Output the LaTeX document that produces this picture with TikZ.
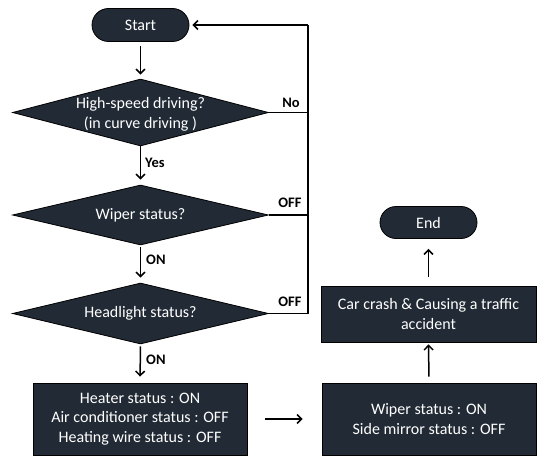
\documentclass[tikz,border=0pt]{standalone}
\usepackage{fontspec}
\setmainfont{Carlito}
\usetikzlibrary{shapes.geometric,shapes.misc,arrows.meta}
\definecolor{boxfill}{HTML}{222A35}
\begin{document}
\begin{tikzpicture}[x=1pt,y=-1pt,
  base/.style={fill=boxfill, draw=black, line width=0.8pt, text=white,
    font=\fontsize{16}{19.5}\selectfont, align=center, inner sep=0pt},
  terminal/.style={base, rounded rectangle, minimum width=97pt, minimum height=#1},
  terminal/.default=33pt,
  decision/.style={base, diamond, minimum width=256pt, minimum height=#1},
  decision/.default=60pt,
  process/.style={base, rectangle, minimum width=214pt, minimum height=#1},
  process/.default=72pt,
  dtext/.style={text=white, font=\fontsize{16}{19.5}\selectfont, align=center, inner sep=0pt},
  flow/.style={line width=1.5pt, -{Straight Barb[length=4.5pt,width=9pt]}},
  link/.style={line width=1.4pt, line join=miter},
  tag/.style={font=\fontsize{14.5}{17}\selectfont\bfseries, inner sep=0pt}
]
\useasboundingbox (0,0) rectangle (540,457);

% left column
\node[terminal] (start) at (140.5,25) {Start};
\node[decision=67pt] (d1) at (140.5,112.5) {};
\node[dtext] (d1t) at (140.5,114.5) {High-speed driving?\\(in curve driving )};
\node[decision=60pt] (d2) at (140.5,215) {};
\node[dtext] (d2t) at (d2) {Wiper status?};
\node[decision=61pt] (d3) at (140.5,313.5) {};
\node[dtext] (d3t) at (d3) {Headlight status?};
\node[process] (heat) at (140,419) {Heater status : ON\\Air conditioner status : OFF\\Heating wire status : OFF};

% right column
\node[process] (wipe) at (429,419) {Wiper status : ON\\Side mirror status : OFF};
\node[process=56pt, minimum width=215pt] (crash) at (428.5,314) {Car crash \& Causing a traffic\\accident};
\node[terminal=32pt] (end) at (428.5,222.5) {End};

% main flow
\draw[flow, shorten <=4pt, shorten >=4pt] (start.south) -- (d1.north);
\draw[flow, shorten >=5pt] (d1.south) -- (d2.north);
\draw[flow, shorten <=2pt, shorten >=5pt] (d2.south) -- (d3.north);
\draw[flow, shorten <=2pt, shorten >=6pt] (d3.south) -- (heat.north);
\draw[flow, shorten <=18pt, shorten >=19pt] (heat.east) -- (wipe.west);
\draw[flow, shorten <=6pt, shorten >=2pt] (wipe.north) -- (crash.south);
\draw[flow, shorten <=9pt, shorten >=10pt] (crash.north) -- (end.south);

% return path to start
\coordinate (r1) at (308,112.5);
\coordinate (r2) at (308,215);
\coordinate (r3) at (308,313.5);
\coordinate (rtop) at (308,25);
\draw[link] (d1.east) -- (r1);
\draw[link] (d2.east) -- (r2);
\draw[link] (d3.east) -- (r3) -- (rtop);
\draw[flow, shorten >=3pt] (rtop) -- (start.east);

% branch labels
\node[tag] (lno) at (291,103) {No};
\node[tag] (loff1) at (290,203) {OFF};
\node[tag] (loff2) at (290,302) {OFF};
\node[tag, anchor=west] (lyes) at (145,163) {Yes};
\node[tag, anchor=west] (lon1) at (146,260) {ON};
\node[tag, anchor=west] (lon2) at (146,360) {ON};
\end{tikzpicture}
\end{document}
